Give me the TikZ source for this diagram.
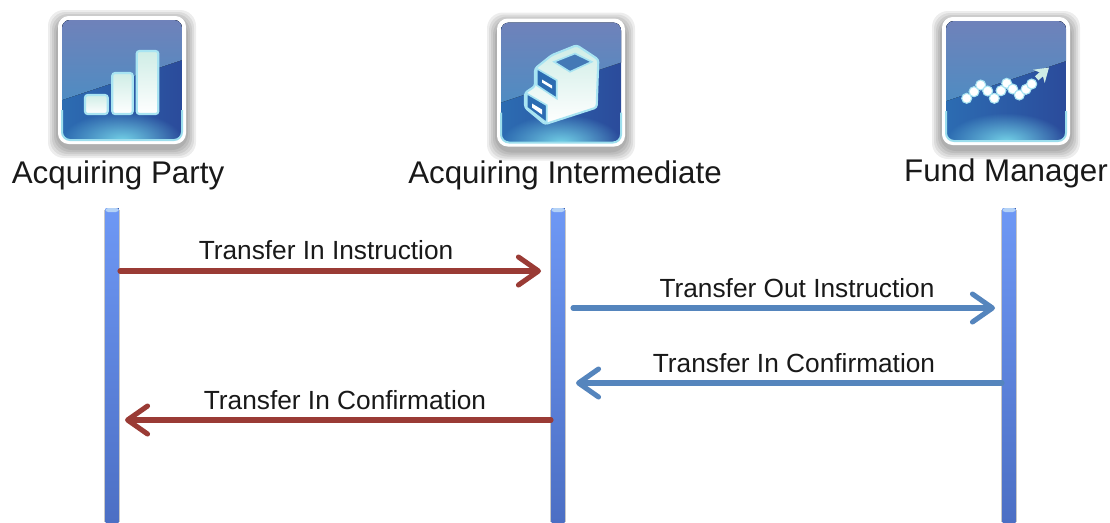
\documentclass[tikz,border=0pt]{standalone}
\usepackage{fontspec}
\setmainfont{Liberation Sans}
\usetikzlibrary{arrows.meta,calc,fadings}
\definecolor{redline}{HTML}{9A3B35}
\definecolor{blueline}{HTML}{5585BD}
\definecolor{tiletop}{HTML}{6F82BA}
\definecolor{tilemid}{HTML}{4F8CC2}
\definecolor{tiledark}{HTML}{2B4B9B}
\definecolor{tileleft}{HTML}{2C6CB2}
\definecolor{tileglow}{HTML}{72D0E6}
\definecolor{mint}{HTML}{CFEDE6}
\definecolor{halo}{HTML}{A8E4F2}
\definecolor{linetop}{HTML}{6E98F5}
\definecolor{linebottom}{HTML}{4C6FC4}
\definecolor{linecap}{HTML}{B4D2F6}
\tikzfading[name=glowfade,inner color=transparent!0,outer color=transparent!100]
\tikzset{
  party/.style={font=\fontsize{23.5}{27}\selectfont,text=black!90,inner sep=0pt},
  msg/.style={font=\fontsize{19.7}{23}\selectfont,text=black!90,inner sep=0pt},
  redmsg/.style={draw=redline,line width=3.8pt,line cap=round,-{Straight Barb[length=15pt,width=21pt,round]}},
  bluemsg/.style={draw=blueline,line width=3.8pt,line cap=round,-{Straight Barb[length=15pt,width=21pt,round]}},
  glyph/.style={draw=halo,line width=1.6pt,rounded corners=2pt,top color=mint,bottom color=white},
  tile/.pic={
    \foreach \s in {10,8,6,4,2}
      \fill[black,opacity=0.07,rounded corners=12pt] (-64-\s,-64-\s+4) rectangle (64+\s,64+\s+4);
    \fill[white,rounded corners=8pt] (-64,-64) rectangle (64,64);
    \begin{scope}
      \clip[rounded corners=6pt] (-60,-60) rectangle (60,60);
      \fill[left color=tileleft,right color=tiledark] (-60,-60) rectangle (60,60);
      \fill[top color=tiletop,bottom color=tilemid] (-60,-60) -- (60,-60) -- (60,-20) -- (-60,20) -- cycle;
      \fill[tileglow,path fading=glowfade,fit fading=true] (-60,32) rectangle (60,88);
    \end{scope}
    \draw[tileglow!70!white,line width=1.5pt,rounded corners=6pt] (-60,30) -- (-60,60) -- (60,60) -- (60,30);
  }
}
\begin{document}
\begin{tikzpicture}[x=0.75pt,y=-0.75pt]
\useasboundingbox (0,0) rectangle (1110,522);
\fill[white] (0,0) rectangle (1110,522);

\coordinate (partyTop) at (112,208);
\coordinate (interTop) at (558,208);
\coordinate (fundTop) at (1009,208);
\coordinate (partyEnd) at (112,522);
\coordinate (interEnd) at (558,522);
\coordinate (fundEnd) at (1009,522);

\pic at (122,80) {tile};
\pic at (561,82.5) {tile};
\pic at (1006,81) {tile};

% bars
\begin{scope}[shift={(122,80)}]
\draw[glyph] (-37,15) rectangle (-14.3,34);
\draw[glyph] (-9.7,-7) rectangle (10.7,34);
\draw[glyph] (14.7,-29) rectangle (36.3,34);
\end{scope}

% printer
\begin{scope}[shift={(561,82.5)}]
\draw[glyph] (15.7,-37.3)--(37.3,-23)--(35.7,25)--(-16,41.7)--(-36,25)--(-36,10.3)--(-26,3.7)--(-26,-14)--(-9.3,-27.3)--cycle;
\draw[halo,fill=tilemid!70!tiledark,line width=1.2pt] (-7,-20.7)--(14,-29)--(30.7,-20.7)--(9,-10.7)--cycle;
\draw[halo,fill=tileleft,line width=1.2pt] (-24.3,-14)--(-4.3,-2.3)--(-4.3,16)--(-24.3,2.7)--cycle;
\draw[halo,fill=tileleft,line width=1.2pt] (-34.3,11)--(-14.3,22.7)--(-14.3,40.3)--(-34.3,25)--cycle;
\fill[white] (-19,-3)--(-9,3)--(-9,6)--(-19,0)--cycle;
\fill[white] (-29,21)--(-19,27)--(-19,32)--(-29,25)--cycle;
\end{scope}

% trend
\begin{scope}[shift={(1006,81)}]
\foreach \x/\y in {-39.3/17.3,-32/10.7,-25.3/4,-18.3/10,-11.7/17.3,-5/9.7,0.7/2.3,6.7/8,13.3/14,20/8.3,25.7/3}
  \fill[white,draw=halo,line width=0.8pt] (\x,\y) circle (5);
\draw[mint,line width=4pt,-{Stealth[length=10pt,width=13pt]}] (30.7,-2.7) -- (43,-13.5);
\end{scope}

\node[party] (partyLabel) at (118,175) {Acquiring Party};
\node[party] (interLabel) at (565,175) {Acquiring Intermediate};
\node[party] (fundLabel) at (1006,173) {Fund Manager};

\foreach \a/\b in {partyTop/partyEnd,interTop/interEnd,fundTop/fundEnd} {
  \fill[black!22] ($(\a)+(-8,2)$) rectangle ($(\b)+(8,0)$);
  \fill[top color=linetop,bottom color=linebottom] ($(\a)+(-6.5,0)$) rectangle ($(\b)+(6.5,0)$);
  \fill[linecap,rounded corners=2pt] ($(\a)+(-6.5,0)$) rectangle ($(\a)+(6.5,4)$);
}

\coordinate (r1a) at (120,271);
\coordinate (r1b) at (541,271);
\coordinate (b1a) at (573,308);
\coordinate (b1b) at (995,308);
\coordinate (b2a) at (1002,383);
\coordinate (b2b) at (576,383);
\coordinate (r2a) at (551,420);
\coordinate (r2b) at (125,420);

\draw[redmsg] (r1a) -- (r1b);
\draw[bluemsg] (b1a) -- (b1b);
\draw[bluemsg] (b2a) -- (b2b);
\draw[redmsg] (r2a) -- (r2b);

\node[msg] (r1Label) at (326,250) {Transfer In Instruction};
\node[msg] (b1Label) at (797,288) {Transfer Out Instruction};
\node[msg] (b2Label) at (794,363) {Transfer In Confirmation};
\node[msg] (r2Label) at (345,400) {Transfer In Confirmation};
\end{tikzpicture}
\end{document}
